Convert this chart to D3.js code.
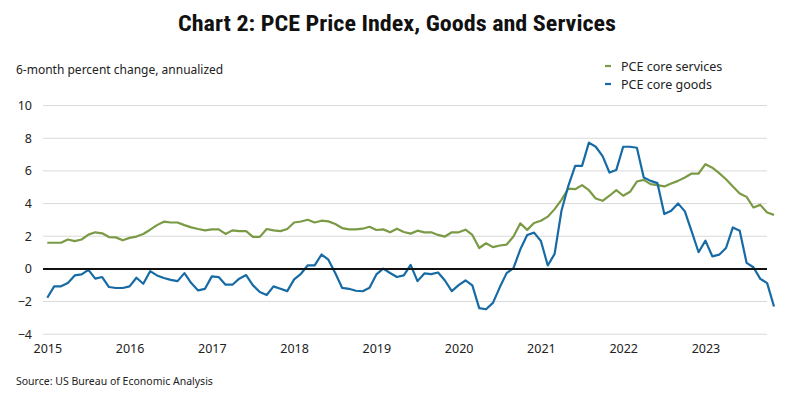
<!DOCTYPE html>
<html>
<head>
<meta charset="utf-8">
<script src="https://cdn.jsdelivr.net/npm/d3@7"></script>
<style>
    body { margin: 0; background: #ffffff; }
    svg { display: block; }
</style>
</head>
<body>
<svg id="chart" width="794" height="402"></svg>
<script>
// ------------------ DATA ------------------

// monthly, Jan 2015 .. Nov 2023
let startYear = 2015;
let yearLabels = ["2015", "2016", "2017", "2018", "2019", "2020", "2021", "2022", "2023"];
let yTicks = [-4, -2, 0, 2, 4, 6, 8, 10];

let coreServices = [
    1.6, 1.6, 1.6, 1.8, 1.7, 1.8, 2.1, 2.24, 2.18, 1.95, 1.93, 1.75,
    1.9, 1.98, 2.14, 2.4, 2.68, 2.89, 2.84, 2.84, 2.68, 2.54, 2.44, 2.36,
    2.42, 2.42, 2.14, 2.36, 2.31, 2.31, 1.96, 1.96, 2.44, 2.36, 2.31, 2.44,
    2.84, 2.9, 3.01, 2.84, 2.95, 2.91, 2.75, 2.5, 2.42, 2.42, 2.46, 2.58,
    2.38, 2.42, 2.24, 2.46, 2.26, 2.16, 2.34, 2.24, 2.24, 2.08, 1.98, 2.24,
    2.24, 2.4, 2.08, 1.28, 1.57, 1.33, 1.43, 1.49, 1.98, 2.79, 2.39, 2.81,
    2.95, 3.2, 3.66, 4.23, 4.92, 4.88, 5.13, 4.82, 4.31, 4.17, 4.48, 4.82,
    4.48, 4.72, 5.35, 5.45, 5.19, 5.13, 5.05, 5.23, 5.39, 5.6, 5.84, 5.84,
    6.41, 6.2, 5.86, 5.49, 5.05, 4.62, 4.41, 3.76, 3.92, 3.45, 3.31
];

let coreGoods = [
    -1.77, -1.07, -1.07, -0.87, -0.4, -0.34, -0.06, -0.6, -0.5, -1.11, -1.17, -1.17,
    -1.07, -0.54, -0.91, -0.14, -0.4, -0.56, -0.67, -0.75, -0.26, -0.87, -1.32, -1.22,
    -0.46, -0.5, -0.97, -0.97, -0.6, -0.38, -1.01, -1.42, -1.6, -1.07, -1.22, -1.36,
    -0.64, -0.3, 0.22, 0.22, 0.88, 0.56, -0.25, -1.16, -1.22, -1.34, -1.37, -1.16,
    -0.34, 0.02, -0.25, -0.5, -0.4, 0.25, -0.75, -0.28, -0.32, -0.22, -0.71, -1.36,
    -0.99, -0.71, -1.01, -2.4, -2.47, -2.08, -1.13, -0.26, 0.05, 1.2, 2.08, 2.22,
    1.71, 0.21, 0.92, 3.56, 5.09, 6.31, 6.31, 7.73, 7.48, 6.91, 5.9, 6.06,
    7.48, 7.48, 7.42, 5.6, 5.39, 5.25, 3.36, 3.56, 4.01, 3.52, 2.28, 1.02,
    1.73, 0.77, 0.87, 1.28, 2.54, 2.34, 0.37, 0.1, -0.61, -0.87, -2.3
];

let seriesNames = ["PCE core services", "PCE core goods"];
let seriesColors = ["#7b9a45", "#176ba5"];

// ------------------ LAYOUT ------------------

let svg = d3.select("#chart");
let font = "'Noto Sans', 'Open Sans', sans-serif";

let x = d3.scaleLinear()
    .domain([0, coreGoods.length - 1])
    .range([47.3, 774]);

let y = d3.scaleLinear()
    .domain([-4, 10])
    .range([334.2, 105.6]);

let gridLeft = 43;
let gridRight = 767;

// ------------------ TITLE / LABELS ------------------

svg.append("text")
    .attr("x", 397)
    .attr("y", 31)
    .attr("text-anchor", "middle")
    .attr("font-family", "'Liberation Sans Narrow', 'Roboto Condensed', 'Roboto', sans-serif")
    .attr("font-weight", "bold")
    .attr("font-size", 22)
    .attr("textLength", 438)
    .attr("lengthAdjust", "spacingAndGlyphs")
    .attr("fill", "#111")
    .text("Chart 2: PCE Price Index, Goods and Services");

svg.append("text")
    .attr("x", 16)
    .attr("y", 74)
    .attr("font-family", font)
    .attr("font-size", 12)
    .attr("fill", "#222")
    .text("6-month percent change, annualized");

svg.append("text")
    .attr("x", 16)
    .attr("y", 385)
    .attr("font-family", font)
    .attr("font-size", 10.5)
    .attr("fill", "#222")
    .text("Source: US Bureau of Economic Analysis");

// ------------------ GRID + AXES ------------------

let grid = svg.append("g").attr("class", "grid");

grid.selectAll("line")
    .data(yTicks.filter((d) => { return d != 0 }))
    .enter().append("line")
    .attr("x1", gridLeft)
    .attr("x2", gridRight)
    .attr("y1", (d) => { return y(d) })
    .attr("y2", (d) => { return y(d) })
    .attr("stroke", "#d9d9d9")
    .attr("stroke-width", 1);

let yAxis = d3.axisLeft(y)
    .tickValues(yTicks)
    .tickSize(0)
    .tickPadding(0);

svg.append("g")
    .attr("transform", "translate(32,0)")
    .call(yAxis)
    .call((g) => g.select(".domain").remove())
    .selectAll("text")
    .attr("font-family", font)
    .attr("font-size", 12.5)
    .attr("fill", "#222");

let xAxis = d3.axisBottom(x)
    .tickValues(yearLabels.map((d, i) => { return i * 12 }))
    .tickFormat((d, i) => { return yearLabels[i] })
    .tickSize(0)
    .tickPadding(0);

svg.append("g")
    .attr("transform", "translate(0,344)")
    .call(xAxis)
    .call((g) => g.select(".domain").remove())
    .selectAll("text")
    .attr("font-family", font)
    .attr("font-size", 12.5)
    .attr("fill", "#222");

// ------------------ LINES ------------------

let line = d3.line()
    .x((d, i) => { return x(i) })
    .y((d) => { return y(d) });

let lines = svg.append("g").attr("class", "lines");

[coreServices, coreGoods].forEach((values, i) => {
    lines.append("path")
        .datum(values)
        .attr("fill", "none")
        .attr("stroke", seriesColors[i])
        .attr("stroke-width", 2.2)
        .attr("stroke-linejoin", "round")
        .attr("d", line);
});

// zero line drawn over goods line, as in the original
svg.append("line")
    .attr("x1", gridLeft)
    .attr("x2", gridRight)
    .attr("y1", y(0))
    .attr("y2", y(0))
    .attr("stroke", "#111")
    .attr("stroke-width", 2);

// ------------------ LEGEND ------------------

let legend = svg.append("g")
    .attr("class", "legend")
    .selectAll("g")
    .data(seriesNames)
    .enter().append("g")
    .attr("transform", (d, i) => { return "translate(605," + (66 + i * 18) + ")" });

legend.append("line")
    .attr("x1", 0)
    .attr("x2", 6)
    .attr("stroke", (d, i) => { return seriesColors[i] })
    .attr("stroke-width", 2.2);

legend.append("text")
    .attr("x", 16)
    .attr("y", 4.5)
    .attr("font-family", font)
    .attr("font-size", 12.5)
    .attr("fill", "#222")
    .text((d) => { return d });
</script>
</body>
</html>
